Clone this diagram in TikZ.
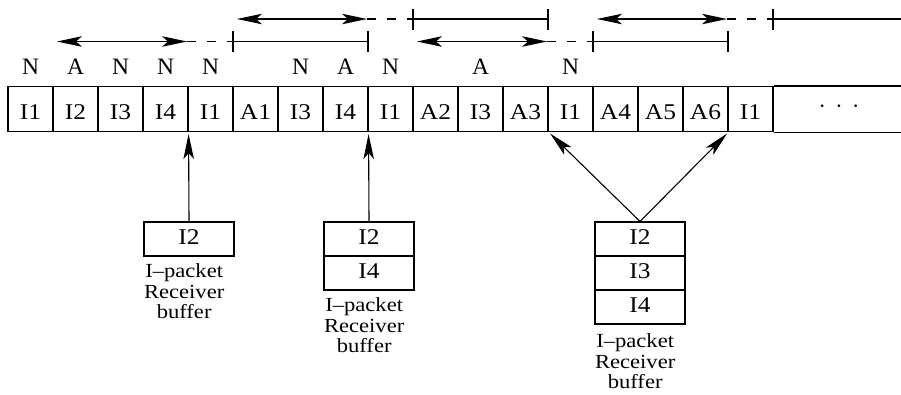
\documentclass[tikz,border=0pt]{standalone}
\usepackage{fontspec}
\setmainfont{Liberation Serif}
\newfontfamily\widefont{Liberation Serif}[FakeStretch=1.13]
\usetikzlibrary{arrows.meta}

\begin{document}
\begin{tikzpicture}[x=1pt, y=-1pt, line width=1.1pt,
  tip/.tip={Stealth[length=25pt, width=10.5pt, inset=6pt]},
  cell/.style={draw, minimum width=45pt, minimum height=45pt, inner sep=0pt,
    text height=20.6pt, text depth=0pt, font=\widefont\fontsize{22.5}{24}\selectfont},
  bufcell/.style={draw, minimum width=90pt, minimum height=34pt, inner sep=0pt,
    text height=14pt, text depth=4pt, font=\widefont\fontsize{22.5}{24}\selectfont},
  kind/.style={anchor=base, inner sep=0pt, font=\fontsize{23.5}{25}\selectfont},
  buflabel/.style={anchor=north west, inner sep=0pt, align=center,
    font=\widefont\fontsize{20}{20.5}\selectfont},
  link/.style={-tip, shorten >=2pt},
  window/.style={tip-tip},
  gap/.style={dash pattern=on 9pt off 11pt},
  tick/.style={line width=1.1pt}
]
\useasboundingbox (0,0) rectangle (901,394);

% packet stream
\foreach \t [count=\i] in {I1,I2,I3,I4,I1,A1,I3,I4,I1,A2,I3,A3,I1,A4,A5,A6,I1}
  \node[cell] (c\i) at ({30.5+45*(\i-1)},109) {\t};
\draw (c17.north east) -- ++(128,0) coordinate (tailtop);
\draw (c17.south east) -- ++(128,0) coordinate (tailbot);
\node[anchor=base, inner sep=0pt, font=\fontsize{22}{24}\selectfont] (more) at (839,113.5)
  {·\hspace{9.5pt}·\hspace{9.5pt}·};

% acknowledgement kinds
\foreach \i/\l in {1/N,2/A,3/N,4/N,5/N,7/N,8/A,9/N,11/A,13/N}
  \node[kind] (k\i) at ({30.5+45*(\i-1)},74) {\l};

% windows: arrow over three slots, dashed gap, then a bracket over three slots
\foreach \k/\y/\n in {1/41.5/w1, 5/19/w2, 9/41.5/w3, 13/19/w4} {
  \coordinate (\n a) at ({8+45*\k+4},\y);
  \coordinate (\n b) at ({8+45*(\k+3)-1},\y);
  \coordinate (\n c) at ({8+45*(\k+4)},\y);
  \draw[window] (\n a) -- (\n b);
  \draw[gap] (\n b) -- (\n c);
  \draw[tick] ([yshift=10.5pt]\n c) -- ([yshift=-10.5pt]\n c);
}
\coordinate (w1d) at (368,41.5);
\coordinate (w2d) at (548,19);
\coordinate (w3d) at (728,41.5);
\coordinate (w4d) at (901,19);
\draw (w1c) -- (w1d);
\draw (w2c) -- (w2d);
\draw (w3c) -- (w3d);
\draw (w4c) -- (w4d);
\draw[tick] ([yshift=10.5pt]w1d) -- ([yshift=-10.5pt]w1d);
\draw[tick] ([yshift=10.5pt]w2d) -- ([yshift=-10.5pt]w2d);
\draw[tick] ([yshift=10.5pt]w3d) -- ([yshift=-10.5pt]w3d);

% receiver buffers
\node[bufcell] (b1a) at (189,239) {I2};
\node[bufcell] (b2a) at (369,239) {I2};
\node[bufcell] (b2b) at (369,273) {I4};
\node[bufcell] (b3a) at (640,239) {I2};
\node[bufcell] (b3b) at (640,273) {I3};
\node[bufcell] (b3c) at (640,307) {I4};

\node[buflabel] (l1) at ([yshift=-7pt]b1a.south west) {I–packet\\Receiver\\buffer};
\node[buflabel] (l2) at ([yshift=-7pt]b2b.south west) {I–packet\\Receiver\\buffer};
\node[buflabel] (l3) at ([yshift=-9pt]b3c.south west) {I–packet\\Receiver\\buffer};

% retransmission links
\draw[link] (b1a.north) -- (c4.south east);
\draw[link] (b2a.north) -- (c8.south east);
\draw[link] (b3a.north) -- (c12.south east);
\draw[link] (b3a.north) -- (c16.south east);
\end{tikzpicture}
\end{document}
